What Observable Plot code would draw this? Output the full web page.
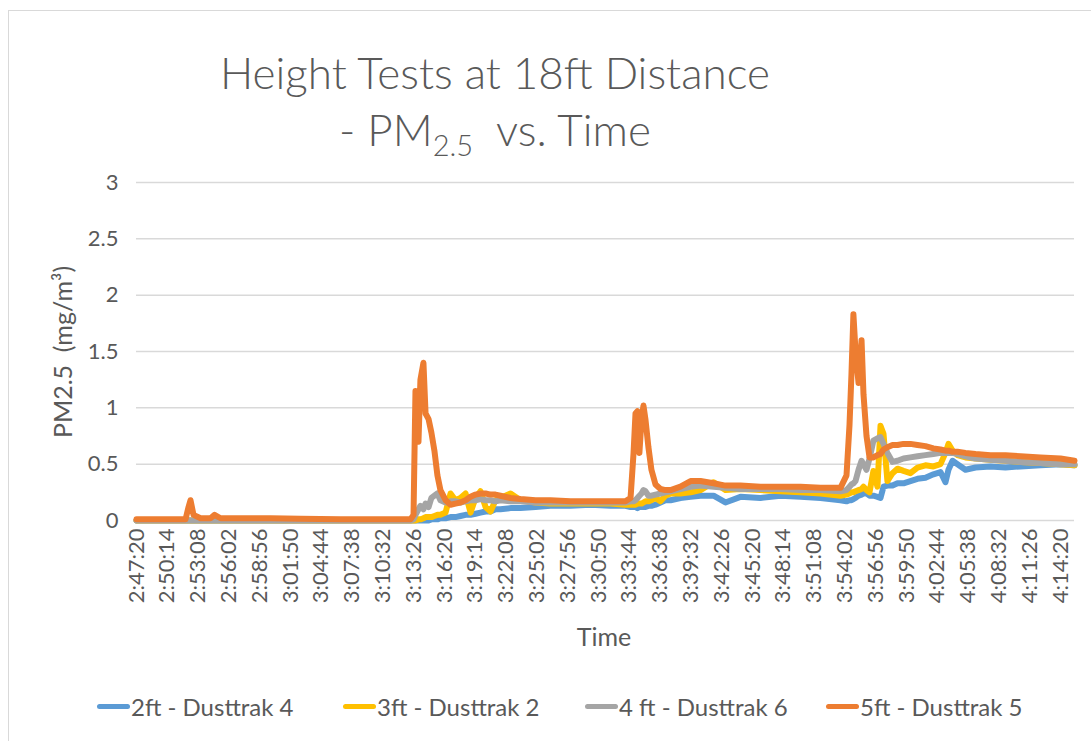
<!DOCTYPE html>
<html>
<head>
<meta charset="utf-8">
<script src="https://cdn.jsdelivr.net/npm/d3@7"></script>
<script src="https://cdn.jsdelivr.net/npm/@observablehq/plot@0.6"></script>
<style>
  body { margin: 0; background: #fff; font-family: Lato, "Open Sans", sans-serif; color: #595959; }
  #wrap { position: relative; width: 1091px; height: 741px; overflow: hidden; background: #fff; }
  #frame { position: absolute; left: 8px; top: 10px; width: 1200px; height: 800px; border: 1px solid #d9d9d9; box-sizing: border-box; }
  #chart { position: absolute; left: 0; top: 0; }
  #title { position: absolute; left: 0; width: 990px; top: 44px; text-align: center; font-size: 44px; font-weight: 300; line-height: 57px; color: #595959; }
  #title sub { font-size: 29px; vertical-align: -10px; line-height: 0; }
  #ylabel { position: absolute; left: 62px; top: 352px; transform: translate(-50%, -50%) rotate(-90deg); white-space: nowrap; font-size: 25px; }
  #xlabel { position: absolute; left: 604px; top: 636px; transform: translate(-50%, -50%); font-size: 25px; }
  #legend { position: absolute; left: 0; top: 692px; width: 1091px; height: 32px; font-size: 24px; white-space: nowrap; }
  .item { position: absolute; top: 0; display: flex; align-items: center; }
  .sw { width: 33px; height: 5px; border-radius: 3px; margin-right: 1px; }
</style>
</head>
<body>
<div id="wrap">
  <div id="frame"></div>
  <div id="chart"></div>
  <div id="title">Height Tests at 18ft Distance<br>- PM<sub>2.5</sub>&nbsp; vs. Time</div>
  <div id="ylabel">PM2.5&nbsp; (mg/m³)</div>
  <div id="xlabel">Time</div>
  <div id="legend"></div>
</div>
<script>
// ---- data ----
const times = ["2:47:20","2:49:36","2:51:57","2:52:14","2:52:25","2:52:42","2:53:22","2:54:18","2:54:41","2:55:15",
"2:57:08","2:59:57","3:02:46","3:06:32","3:10:18","3:13:08","3:13:25","3:13:36","3:13:53","3:14:04",
"3:14:21","3:14:33","3:14:50","3:15:06","3:15:23","3:15:40","3:15:57","3:16:26","3:16:54","3:17:22",
"3:17:50","3:18:19","3:18:47","3:19:15","3:19:43","3:20:12","3:20:40","3:21:08","3:21:36","3:22:33",
"3:23:29","3:24:54","3:26:19","3:28:12","3:30:05","3:31:58","3:33:22","3:33:51","3:34:08","3:34:19",
"3:34:30","3:34:41","3:34:53","3:35:04","3:35:15","3:35:32","3:35:49","3:36:12","3:36:40","3:37:08",
"3:37:37","3:38:33","3:39:30","3:40:26","3:41:40","3:42:47","3:44:12","3:46:05","3:47:58","3:49:51",
"3:51:44","3:53:37","3:54:11","3:54:28","3:54:39","3:54:50","3:55:02","3:55:19","3:55:36","3:55:47",
"3:56:04","3:56:21","3:56:43","3:57:06","3:57:23","3:57:40","3:58:02","3:58:31","3:58:59","3:59:33",
"4:00:12","4:00:52","4:01:37","4:02:22","4:03:02","4:03:30","4:03:47","4:04:10","4:04:38","4:05:23",
"4:06:20","4:07:44","4:09:09","4:10:34","4:12:27","4:14:20","4:15:39"];

const dusttrak4_2ft = [0,0,0,0,0,0,0,0,0,0,
0,0,0,0,0,0,0,0,0,0,
0,0,0,0.01,0.01,0.01,0.02,0.02,0.03,0.03,
0.04,0.05,0.05,0.06,0.07,0.08,0.08,0.1,0.1,0.11,
0.11,0.12,0.13,0.13,0.14,0.13,0.13,0.12,0.12,0.12,
0.11,0.12,0.12,0.12,0.12,0.13,0.13,0.14,0.16,0.18,
0.18,0.2,0.21,0.22,0.22,0.16,0.21,0.2,0.22,0.21,
0.2,0.18,0.17,0.18,0.18,0.19,0.2,0.22,0.23,0.24,
0.24,0.22,0.22,0.21,0.2,0.3,0.31,0.31,0.33,0.33,
0.35,0.37,0.38,0.41,0.43,0.34,0.45,0.53,0.5,0.45,
0.47,0.48,0.47,0.48,0.49,0.5,0.49];

const dusttrak2_3ft = [0,0,0,0,0,0,0,0,0,0,
0,0,0,0,0,0,0,0,0.01,0.01,
0.02,0.03,0.03,0.03,0.04,0.05,0.05,0.07,0.24,0.18,
0.2,0.24,0.07,0.2,0.26,0.12,0.08,0.18,0.2,0.24,
0.18,0.16,0.15,0.15,0.15,0.15,0.14,0.14,0.14,0.14,
0.15,0.15,0.15,0.16,0.17,0.17,0.18,0.2,0.17,0.22,
0.24,0.24,0.25,0.27,0.34,0.27,0.28,0.27,0.26,0.25,
0.24,0.22,0.23,0.24,0.25,0.25,0.26,0.27,0.28,0.3,
0.27,0.25,0.44,0.3,0.84,0.77,0.35,0.42,0.46,0.44,
0.42,0.47,0.49,0.48,0.5,0.6,0.68,0.62,0.58,0.56,
0.55,0.54,0.53,0.52,0.51,0.5,0.49];

const dusttrak6_4ft = [0,0,0,0,0,0,0,0,0,0,
0,0,0,0,0,0,0.01,0.05,0.1,0.13,
0.1,0.15,0.12,0.2,0.22,0.24,0.18,0.16,0.17,0.17,
0.16,0.17,0.18,0.18,0.19,0.18,0.18,0.17,0.18,0.17,
0.17,0.16,0.16,0.16,0.16,0.16,0.16,0.17,0.17,0.18,
0.2,0.22,0.24,0.27,0.26,0.22,0.22,0.23,0.24,0.25,
0.26,0.28,0.3,0.31,0.3,0.29,0.28,0.28,0.28,0.27,
0.27,0.26,0.27,0.3,0.32,0.33,0.35,0.45,0.53,0.5,
0.45,0.55,0.71,0.73,0.74,0.68,0.6,0.52,0.53,0.55,
0.56,0.57,0.58,0.59,0.6,0.6,0.6,0.6,0.59,0.57,
0.55,0.54,0.53,0.52,0.51,0.5,0.5];

const dusttrak5_5ft = [0.01,0.01,0.01,0.12,0.18,0.05,0.02,0.02,0.05,0.02,
0.02,0.02,0.015,0.01,0.01,0.01,0.05,1.15,0.7,1.25,
1.4,0.95,0.9,0.78,0.62,0.4,0.27,0.18,0.14,0.15,
0.16,0.18,0.21,0.23,0.24,0.24,0.23,0.23,0.22,0.2,
0.19,0.18,0.18,0.17,0.17,0.17,0.17,0.2,0.6,0.95,
0.97,0.6,0.9,1.02,0.9,0.65,0.45,0.32,0.28,0.27,
0.27,0.3,0.35,0.35,0.33,0.31,0.31,0.3,0.3,0.3,
0.29,0.29,0.4,0.85,1.3,1.83,1.5,1.22,1.6,1.12,
0.75,0.56,0.56,0.58,0.59,0.63,0.65,0.67,0.67,0.68,
0.68,0.67,0.66,0.64,0.63,0.62,0.62,0.61,0.61,0.6,
0.59,0.58,0.58,0.57,0.56,0.55,0.53];

const seriesNames = ["2ft - Dusttrak 4", "3ft - Dusttrak 2", "4 ft - Dusttrak 6", "5ft - Dusttrak 5"];
const seriesValues = [dusttrak4_2ft, dusttrak2_3ft, dusttrak6_4ft, dusttrak5_5ft];
const seriesColors = ["#5B9BD5", "#FFC000", "#A5A5A5", "#ED7D31"];

const xTickLabels = ["2:47:20","2:50:14","2:53:08","2:56:02","2:58:56","3:01:50","3:04:44","3:07:38","3:10:32","3:13:26",
"3:16:20","3:19:14","3:22:08","3:25:02","3:27:56","3:30:50","3:33:44","3:36:38","3:39:32","3:42:26",
"3:45:20","3:48:14","3:51:08","3:54:02","3:56:56","3:59:50","4:02:44","4:05:38","4:08:32","4:11:26","4:14:20"];
const yTicks = [0, 0.5, 1, 1.5, 2, 2.5, 3];

// ---- build table ----
const parseT = s => { const [h, m, sec] = s.split(":").map(Number); return new Date(Date.UTC(2000, 0, 1, h, m, sec)); };
const rows = [];
seriesNames.forEach((name, k) => {
  times.forEach((t, i) => rows.push({ time: parseT(t), value: seriesValues[k][i], name }));
});
const tickDates = xTickLabels.map(parseT);
const fmt = d3.utcFormat("%-H:%M:%S");

const chart = Plot.plot({
  width: 1091,
  height: 625,
  marginTop: 182,
  marginBottom: 105,
  marginLeft: 136,
  marginRight: 17,
  style: { fontFamily: "Lato, 'Open Sans', sans-serif", fontSize: "22px", color: "#595959", background: "transparent", overflow: "visible" },
  x: { type: "utc", domain: [parseT(times[0]), parseT(times[times.length - 1])] },
  y: { domain: [0, 3] },
  color: { domain: seriesNames, range: seriesColors },
  marks: [
    Plot.gridY(yTicks, { stroke: "#d9d9d9", strokeOpacity: 1, strokeWidth: 1.5 }),
    Plot.axisY(yTicks, { tickSize: 0, tickPadding: 18, tickFormat: d => String(d), label: null }),
    Plot.axisX(tickDates, { tickSize: 0, tickPadding: 8, tickRotate: -90, tickFormat: fmt, label: null }),
    Plot.line(rows, { x: "time", y: "value", z: "name", stroke: "name", strokeWidth: 6, strokeLinejoin: "round", strokeLinecap: "round" })
  ]
});
// enforce tick label sizes
d3.select(chart).selectAll('g[aria-label="y-axis tick label"]').attr("font-size", 22).style("font-size", "22px");
d3.select(chart).selectAll('g[aria-label="x-axis tick label"]').attr("font-size", 22).style("font-size", "22px");
document.getElementById("chart").appendChild(chart);

// ---- legend ----
const legendLefts = [97, 343, 585, 826];
const legend = document.getElementById("legend");
seriesNames.forEach((name, k) => {
  const item = document.createElement("div");
  item.className = "item";
  item.style.left = legendLefts[k] + "px";
  const sw = document.createElement("span");
  sw.className = "sw";
  sw.style.background = seriesColors[k];
  const label = document.createElement("span");
  label.textContent = name;
  item.appendChild(sw);
  item.appendChild(label);
  legend.appendChild(item);
});
</script>
</body>
</html>
